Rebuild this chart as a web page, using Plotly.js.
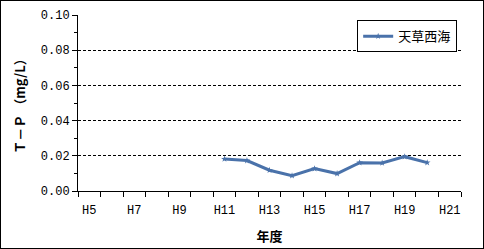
<!DOCTYPE html>
<html><head><meta charset="utf-8">
<script src="https://cdn.plot.ly/plotly-3.0.1.min.js"></script>
<style>body{margin:0;padding:0;background:#fff}#c{width:482px;height:247px;border:1px solid #000}</style>
</head><body><div id="c"></div>
<script>
const years = ['H5','H6','H7','H8','H9','H10','H11','H12','H13','H14','H15','H16','H17','H18','H19','H20','H21'];
const tickLabels = ['H5','','H7','','H9','','H11','','H13','','H15','','H17','','H19','','H21'];
const seriesName = '天草西海';
const tpValues = [null,null,null,null,null,null,0.0182,0.0173,0.0118,0.0087,0.0127,0.0099,0.0161,0.0159,0.0195,0.0161,null];

const monoFont = '"Liberation Mono", "DejaVu Sans Mono", monospace';
const jpFont = '"Noto Sans CJK JP", sans-serif';

Plotly.newPlot('c', [{
  x: years, y: tpValues, name: seriesName, type: 'scatter', mode: 'lines+markers',
  line: {color: '#4a72aa', width: 3},
  marker: {symbol: 'star', size: 5, color: '#4a72aa'},
  connectgaps: false, showlegend: true
}], {
  width: 482, height: 247,
  margin: {l: 77, r: 22, t: 14, b: 57},
  paper_bgcolor: '#fff', plot_bgcolor: '#fff',
  font: {family: monoFont, size: 12, color: '#000'},
  showlegend: true,
  legend: {x: 0.99, xanchor: 'right', y: 0.97, yanchor: 'top', bgcolor: '#fff',
    bordercolor: '#000', borderwidth: 1, font: {family: jpFont, size: 13, color: '#000'},
    itemwidth: 30, tracegroupgap: 0},
  xaxis: {
    type: 'category', range: [-0.5, 16.5], tickmode: 'array', tickvals: years, ticktext: tickLabels,
    tickangle: 0, ticklabelstandoff: 8,
    tickson: 'boundaries', ticks: 'outside', ticklen: 5, tickcolor: '#000',
    showline: true, linecolor: '#000', linewidth: 1, showgrid: false, zeroline: false,
    tickfont: {family: monoFont, size: 12},
    title: {text: '年度', font: {family: jpFont, size: 13, weight: 'bold'}, standoff: 14}
  },
  yaxis: {
    range: [0, 0.1], dtick: 0.02, tickformat: '.2f', ticks: 'outside', ticklen: 5, tickcolor: '#000',
    showline: true, linecolor: '#000', linewidth: 1,
    showgrid: true, gridcolor: '#000', griddash: '3px,2px', gridwidth: 1, zeroline: false,
    minor: {dtick: 0.01, ticks: 'outside', ticklen: 3, tickcolor: '#000', showgrid: false},
    tickfont: {family: monoFont, size: 12},
    title: {text: 'Ｔ－Ｐ （mg/L）', font: {family: jpFont, size: 13, weight: 'bold'}, standoff: 12}
  }
}, {displayModeBar: false, staticPlot: true});
</script></body></html>
